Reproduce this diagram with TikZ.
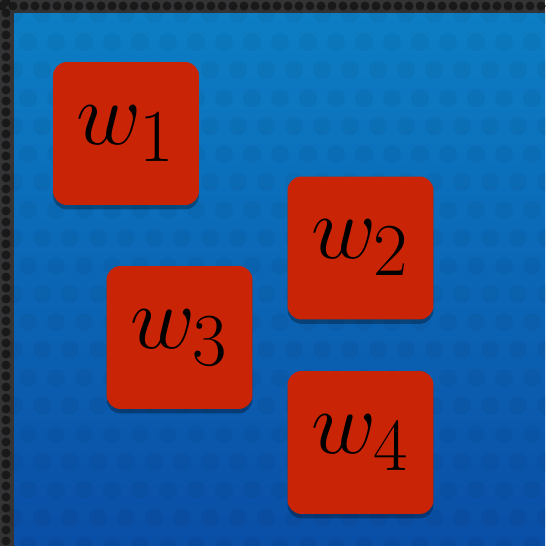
\documentclass[tikz,border=0pt]{standalone}
\usepackage{graphicx}
\usetikzlibrary{positioning}
\usetikzlibrary{shadows}

\definecolor{boxred}{RGB}{200,36,5}
\definecolor{bluetop}{RGB}{12,126,196}
\definecolor{bluebot}{RGB}{10,78,166}
\definecolor{framegray}{RGB}{52,52,54}

\newcommand{\wlabel}[1]{\scalebox{2.05}{\Huge $w_{#1}$}}

\tikzset{
  wbox/.style={rectangle, rounded corners=0.28cm, fill=boxred,
    minimum width=2.92cm, minimum height=2.86cm, inner sep=0pt,
    drop shadow={fill=black, opacity=0.3, shadow xshift=0pt, shadow yshift=-2.5pt}},
  hole/.style={fill=black!90}
}

\begin{document}
\begin{tikzpicture}[x=0.02cm, y=-0.02cm]

\useasboundingbox (0,0) rectangle (545,546);

% frame and background
\fill[framegray] (0,0) rectangle (545,546);
\foreach \i in {0,...,50} {
  \fill[hole] (6,{\i*11+2}) circle (4.5);
  \fill[hole] ({\i*11+2},6) circle (4.5);
}
\shade[top color=bluetop, bottom color=bluebot] (14,14) rectangle (545,546);
\foreach \i in {0,...,19} {
  \foreach \j in {0,...,19} {
    \fill[black, opacity=0.04] ({14+\i*28+mod(\j,2)*14},{14+\j*28}) circle (9);
  }
}

% weights
\node[wbox] (W1) at (126,133.5) {\wlabel{1}};
\node[wbox] (W2) at (360.5,248) {\wlabel{2}};
\node[wbox] (W3) at (179.5,337.5) {\wlabel{3}};
\node[wbox] (W4) at (360.5,442.5) {\wlabel{4}};

\end{tikzpicture}
\end{document}
